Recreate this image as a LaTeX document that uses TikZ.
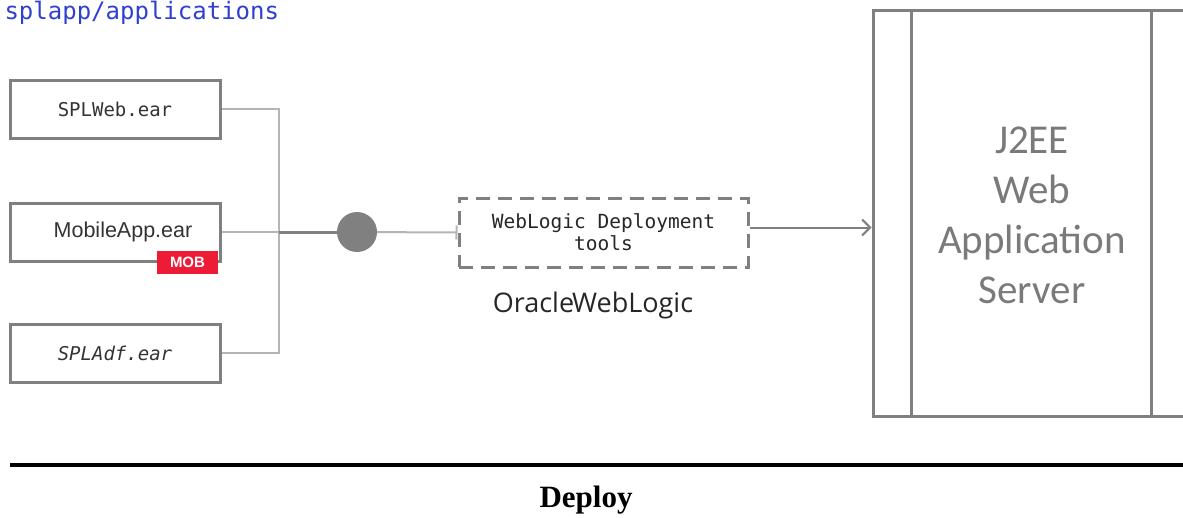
\documentclass[tikz,border=0pt]{standalone}
\usepackage{fontspec}
\usetikzlibrary{arrows.meta}
\newfontfamily\monofont{DejaVu Sans Mono}
\newfontfamily\armfont{Liberation Sans}
\newfontfamily\calfont{Carlito}
\newfontfamily\segfont{Open Sans}
\newfontfamily\serfont{Liberation Serif}
\definecolor{boxgray}{HTML}{808080}
\definecolor{linegray}{HTML}{B4B4B4}
\definecolor{txtgray}{HTML}{7A7A7A}
\definecolor{mobred}{HTML}{EE1B36}
\definecolor{pathblue}{HTML}{2F3FD0}
\begin{document}
\begin{tikzpicture}[x=1pt,y=-1pt]
 \tikzset{earbox/.style={draw=boxgray, line width=3pt, minimum width=210pt, minimum height=58pt, text=black!80},
          conn/.style={draw=linegray, line width=2pt}}
  \clip (0,0) rectangle (1183,517);
  \node[anchor=west, text=pathblue, font=\monofont\fontsize{24}{26}\selectfont] (title) at (1,13) {splapp/applications};
  \node[earbox, font=\monofont\fontsize{19}{20}\selectfont] (web) at (115,109) {SPLWeb.ear};
  \node[earbox, font=\armfont\fontsize{21.5}{22}\selectfont] (mob) at (115,232) {\hspace*{16pt}MobileApp.ear};
  \node[earbox, font=\monofont\itshape\fontsize{19}{20}\selectfont] (adf) at (115,353) {SPLAdf.ear};
  \node[fill=mobred, text=white, minimum width=61pt, minimum height=23pt, inner sep=0pt, font=\armfont\bfseries\fontsize{15}{16}\selectfont] (badge) at (187.5,262) {MOB};
  \coordinate (bus) at (279,232);
  \node[circle, fill=boxgray, minimum size=40pt, inner sep=0pt] (hub) at (357,232) {};
  \node[draw=boxgray, line width=3pt, dash pattern=on 14pt off 8pt, minimum width=289pt, minimum height=69pt, align=center, text=black!85, font=\monofont\fontsize{19.5}{22}\selectfont] (tools) at (603.5,232.5) {WebLogic Deployment\\tools};
  \node[font=\segfont\fontsize{27}{30}\selectfont, text=black!85] (oracle) at (593,305) {Oracle\hspace{-2pt}WebLogic};
  \node[draw=boxgray, line width=3pt, minimum width=330pt, minimum height=406pt] (server) at (1038,213) {};
  \node[text=txtgray, align=center, font=\calfont\fontsize{41}{50}\selectfont] (srvtext) at (1032,215) {J2EE\\Web\\Application\\Server};
  \draw[boxgray, line width=3pt] ([xshift=40pt]server.north west) -- ([xshift=40pt]server.south west);
  \draw[boxgray, line width=3pt] ([xshift=280pt]server.north west) -- ([xshift=280pt]server.south west);
  \draw[conn] (web.east) -| (bus) |- (adf.east);
  \draw[conn] (mob.east) -- (bus);
  \draw[boxgray, line width=3pt] (bus) -- (hub);
  \draw[conn, -{Bar[width=14pt,line width=2pt]}] (hub) -- (tools.west);
  \draw[boxgray, line width=2pt, -{Straight Barb[length=8pt,width=16pt,line width=2pt]}] ([yshift=5pt]tools.east) -- ([yshift=5pt]tools.east -| server.west);
  \draw[black, line width=4pt] (10,465) -- (1190,465);
  \node[font=\serfont\bfseries\fontsize{31}{34}\selectfont] (deploy) at (586,500) {Deploy};
\end{tikzpicture}
\end{document}
